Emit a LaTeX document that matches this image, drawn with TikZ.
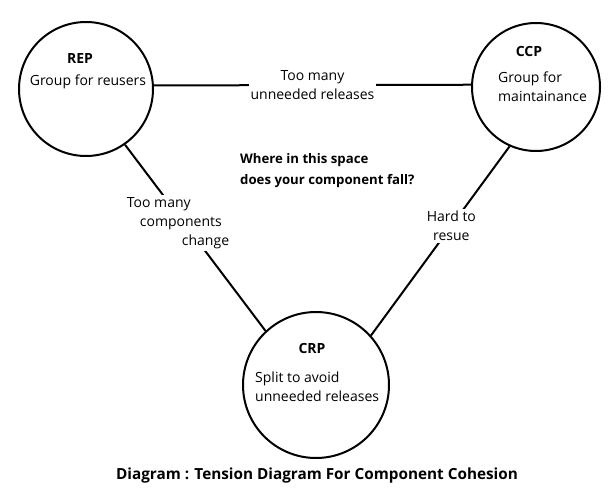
\documentclass[tikz,border=0pt]{standalone}
\usepackage{fontspec}
\setmainfont{Open Sans}
\usepackage{tikz}
\usetikzlibrary{positioning}

\begin{document}
\begin{tikzpicture}[x=1pt, y=-1pt,
    every node/.style={font=\fontsize{14}{19}\selectfont, inner sep=0pt},
    principle/.style={circle, draw, line width=2pt},
    conflict/.style={fill=white, align=center, inner sep=2pt},
    link/.style={line width=2pt}]

    \useasboundingbox (0,0) rectangle (608,492);

    % the three principles
    \node[principle, minimum size=134pt] (rep) at (86,89) {};
    \node[principle, minimum size=128pt] (ccp) at (536,87) {};
    \node[principle, minimum size=146pt] (crp) at (316,385) {};

    \node[font=\fontsize{14}{19}\selectfont\bfseries] (reptitle) at (80,59) {REP};
    \node (repbody) at (88,82) {Group for reusers};

    \node[font=\fontsize{14}{19}\selectfont\bfseries] (ccptitle) at (529,52) {CCP};
    \node[anchor=west, align=left] (ccpbody) at (498,87) {Group for\\maintainance};

    \node[font=\fontsize{14}{19}\selectfont\bfseries] (crptitle) at (312,348) {CRP};
    \node[anchor=west, align=left] (crpbody) at (255,387) {Split to avoid\\unneeded releases};

    % tensions
    \draw[link] (rep.3) -- node[conflict, pos=0.5] (releases) {Too many\\unneeded releases} (ccp.178);
    \draw[link] (rep.305) -- node[conflict, align=left, pos=0.42, xshift=-6pt] (change)
        {Too many\\\hspace*{13pt}components\\\hspace*{55pt}change} (crp.133);
    \draw[link] (ccp.246) -- node[conflict, pos=0.42] (reuse) {Hard to\\resue} (crp.42);

    \node[anchor=west, align=left, font=\fontsize{13.2}{21}\selectfont\bfseries] (question) at (240,171)
        {Where in this space\\does your component fall?};

    \node[font=\fontsize{15.3}{19}\selectfont\bfseries] (caption) at (317,476)
        {Diagram : Tension Diagram For Component Cohesion};
\end{tikzpicture}
\end{document}
